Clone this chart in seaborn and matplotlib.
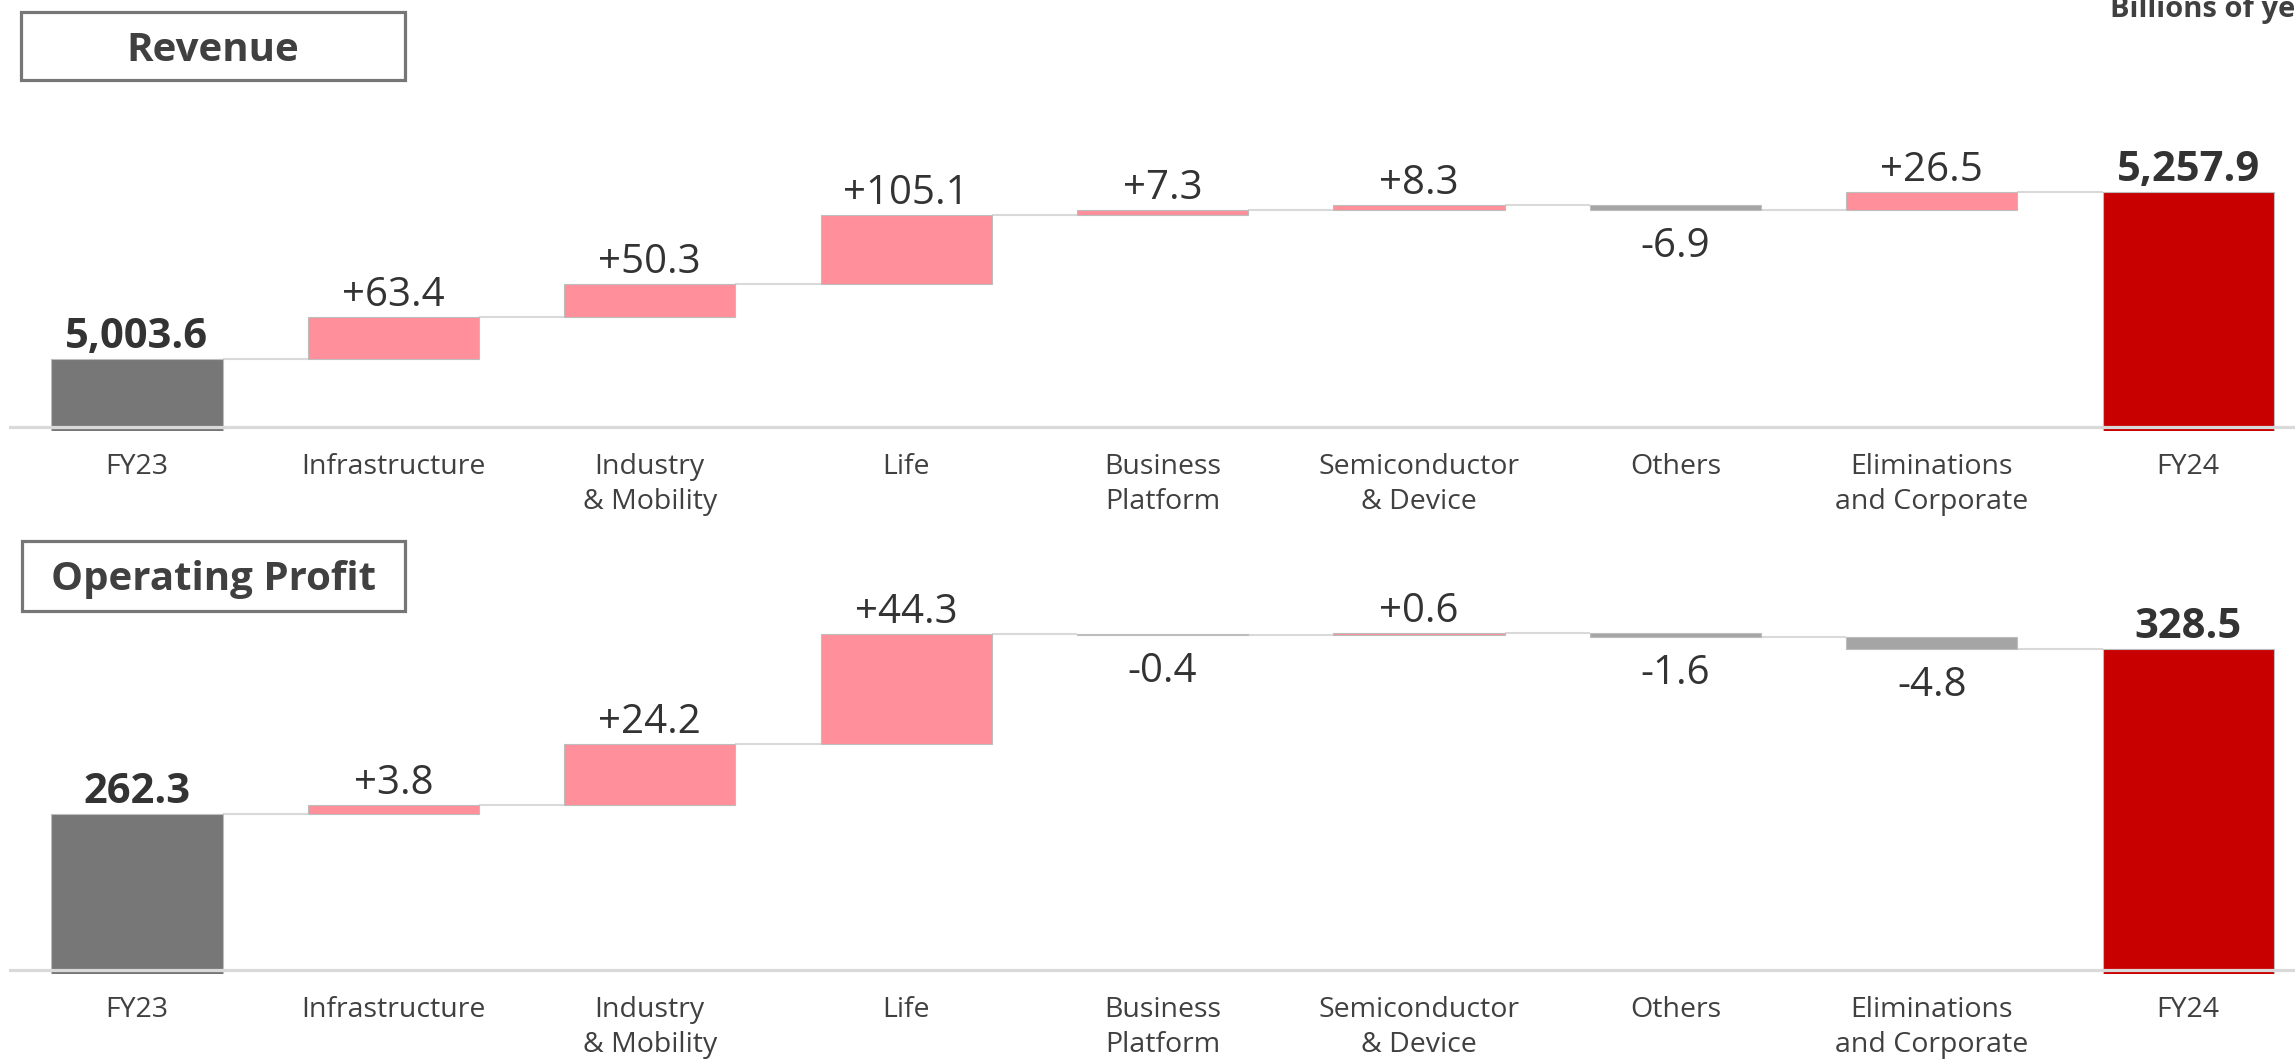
import numpy as np
import pandas as pd
import matplotlib
matplotlib.use("Agg")
import matplotlib.pyplot as plt
from matplotlib import font_manager
from matplotlib.patches import Rectangle
import seaborn as sns

categories = ["FY23", "Infrastructure", "Industry\n& Mobility", "Life", "Business\nPlatform",
              "Semiconductor\n& Device", "Others", "Eliminations\nand Corporate", "FY24"]

revenue_fy23 = 5003.6
revenue_fy24 = 5257.9
revenue_deltas = [63.4, 50.3, 105.1, 7.3, 8.3, -6.9, 26.5]

profit_fy23 = 262.3
profit_fy24 = 328.5
profit_deltas = [3.8, 24.2, 44.3, -0.4, 0.6, -1.6, -4.8]

# value at the truncated baseline of each panel
revenue_axis_base = 4900
profit_axis_base = 200

colors = {"start": "#777777", "up": "#ff8f9b", "down": "#a5a5a5", "end": "#c80000"}
text_color = "#333333"
line_grey = "#d9d9d9"

W, H = 2295, 1061
SPACING = 256.4      # px between category centres
FIRST_X = 137        # px of first category centre
BAR_W = 0.667


def pick_family(candidates):
    """ First installed family that also ships a bold face. """
    fonts = font_manager.fontManager.ttflist
    for fam in candidates:
        weights = [f.weight for f in fonts if f.name == fam]
        if any((w if isinstance(w, int) else 700 if "bold" in str(w) else 400) >= 600 for w in weights):
            return fam
    return "DejaVu Sans"


def waterfall_frame(start, deltas, end):
    """ Bottom / height / kind for every bar of the waterfall. """
    levels = np.concatenate([[start], start + np.cumsum(deltas)])
    bottoms = [0.0] + list(np.minimum(levels[:-1], levels[1:])) + [0.0]
    heights = [start] + list(np.abs(deltas)) + [end]
    kinds = ["start"] + ["up" if d >= 0 else "down" for d in deltas] + ["end"]
    return pd.DataFrame({"category": categories, "bottom": bottoms,
                         "height": heights, "kind": kinds}), levels


def add_axes_px(fig, top_px, bottom_px, left_px=FIRST_X - 0.5 * SPACING):
    return fig.add_axes([left_px / W, 1 - bottom_px / H, (W - left_px) / W, (bottom_px - top_px) / H])


def draw_panel(fig, start, deltas, end, base, baseline_px, scale, top_px):
    overhang = 4
    ax = add_axes_px(fig, top_px, baseline_px + overhang)
    df, levels = waterfall_frame(start, deltas, end)

    sns.barplot(data=df, x="category", y="height", order=categories, bottom=df["bottom"].values,
                width=BAR_W, color=colors["up"], edgecolor="#bdbdbd", linewidth=0.8,
                errorbar=None, ax=ax, zorder=2)
    for patch, kind in zip(ax.patches, df["kind"]):
        patch.set_facecolor(colors[kind])

    # connectors between bars
    for i in range(len(categories) - 1):
        lvl = levels[min(i, len(levels) - 1)]
        ax.hlines(lvl, i + BAR_W / 2, i + 1 - BAR_W / 2, color=line_grey, lw=1.5, zorder=1)

    ax.axhline(base, color=line_grey, lw=2.3, zorder=5)

    # labels
    for i, row in df.iterrows():
        top = row["bottom"] + row["height"]
        if row["kind"] in ("start", "end"):
            ax.annotate(f"{row['height']:,.1f}", (i, top), xytext=(0, 8), textcoords="offset points",
                        ha="center", va="baseline", fontsize=30, fontweight="bold", color=text_color)
        elif row["kind"] == "up":
            ax.annotate(f"+{deltas[i - 1]:.1f}", (i, top), xytext=(0, 8), textcoords="offset points",
                        ha="center", va="baseline", fontsize=29, color=text_color)
        else:
            ax.annotate(f"{deltas[i - 1]:.1f}", (i, row["bottom"]), xytext=(0, -34),
                        textcoords="offset points", ha="center", va="baseline", fontsize=29,
                        color=text_color)

    ax.set_xlim(-0.5, (W - FIRST_X) / SPACING)
    ax.set_ylim(base - overhang / scale, base + (baseline_px - top_px) / scale)
    ax.set_xlabel("")
    ax.set_ylabel("")
    ax.set_yticks([])
    ax.tick_params(axis="x", length=0, pad=16, labelsize=20.5, labelcolor="#404040")
    for lab in ax.get_xticklabels():
        lab.set_linespacing(1.3)
    sns.despine(ax=ax, left=True, bottom=True)
    return ax


def title_box(fig, text, left, top, right, bottom, baseline):
    fig.add_artist(Rectangle((left / W, 1 - bottom / H), (right - left) / W, (bottom - top) / H,
                             transform=fig.transFigure, fill=False, edgecolor="#767676", lw=2.3))
    fig.text((left + right) / 2 / W, 1 - baseline / H, text, ha="center", va="baseline",
             fontsize=29, fontweight="bold", color="#404040")


sns.set_theme(style="white")
family = pick_family(["Noto Sans", "Open Sans", "Lato", "Roboto"])
plt.rcParams["font.family"] = [family, "DejaVu Sans"]

fig = plt.figure(figsize=(W / 100, H / 100), dpi=100)
fig.patch.set_facecolor("white")

draw_panel(fig, revenue_fy23, revenue_deltas, revenue_fy24, revenue_axis_base,
           baseline_px=427, scale=0.6567, top_px=90)
draw_panel(fig, profit_fy23, profit_deltas, profit_fy24, profit_axis_base,
           baseline_px=970, scale=2.498, top_px=590)

title_box(fig, "Revenue", 21, 12, 405, 80, 61)
title_box(fig, "Operating Profit", 22, 541, 405, 611, 590)
fig.text(2110 / W, 1 - 17 / H, "Billions of yen", ha="left", va="baseline",
         fontsize=21, fontweight="bold", color="#404040")

fig.savefig("out.png", dpi=100, facecolor="white")
